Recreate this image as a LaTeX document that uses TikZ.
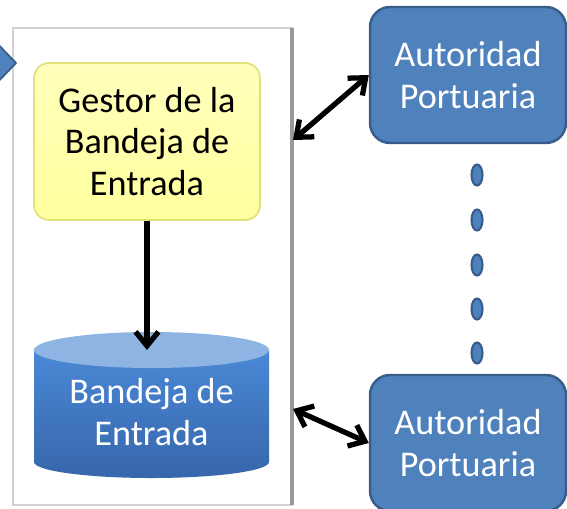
\documentclass[tikz,border=0pt]{standalone}
\usepackage{fontspec}
\setmainfont{Carlito}
\usetikzlibrary{arrows.meta}

\definecolor{gestorfill}{HTML}{FFFF9E}
\definecolor{gestorline}{HTML}{E2E27A}
\definecolor{autfill}{HTML}{4F81BD}
\definecolor{autline}{HTML}{385D8A}
\definecolor{captop}{HTML}{8DB4E3}
\definecolor{bodytop}{HTML}{4A88D6}
\definecolor{bodybot}{HTML}{3766AB}

\begin{document}
\begin{tikzpicture}
  [x=0.02cm, y=0.02cm,
   gestorbox/.style={draw=gestorline, line width=1pt, top color=gestorfill!70, bottom color=gestorfill,
     rounded corners=0.3cm, minimum width=4.52cm, minimum height=3.14cm, align=center},
   autbox/.style={draw=autline, line width=1.4pt, fill=autfill, text=white,
     rounded corners=0.4cm, minimum width=3.92cm, minimum height=2.72cm, align=center},
   link/.style={line width=3pt, -{Straight Barb[length=8pt,width=13pt]}},
   twolink/.style={line width=3pt, {Straight Barb[length=8pt,width=13pt]}-{Straight Barb[length=8pt,width=13pt]}},
   font=\fontsize{20.6}{23.5}\selectfont]
  \clip (0,0) rectangle (567,508);

  % panel
  \draw[black!18, line width=1.5pt, fill=white] (13,3) rectangle (292,480);
  \draw[black!40, line width=2pt] (292,480) -- (292,3);
  \filldraw[fill=autfill, draw=autline, line width=1pt] (-8,470) -- (16,445) -- (-8,420) -- cycle;

  % database
  \shade[top color=bodytop, bottom color=bodybot]
    (34,158) -- (34,46) arc[start angle=180, end angle=360, x radius=117.5, y radius=16]
    -- (269,158) -- cycle;
  \fill[captop] (151.5,158) ellipse[x radius=117.5, y radius=18];
  \coordinate (dbtop) at (147,158);
  \node[text=white, align=center] (bandeja) at (151.5,96) {Bandeja de\\Entrada};

  \node[gestorbox] (gestor) at (147,366.5) {Gestor de la\\Bandeja de\\Entrada};
  \node[autbox] (aut1) at (468,433) {Autoridad\\Portuaria};
  \node[autbox] (aut2) at (468,65) {Autoridad\\Portuaria};

  \foreach \y in {333,288,243,199,155}
    \filldraw[fill=autfill, draw=autline, line width=1.2pt] (477,\y) ellipse[x radius=5.5, y radius=10.5];

  \coordinate (p1) at (293,368);
  \coordinate (p2) at (293,99);

  \draw[link] (gestor) -- (dbtop);
  \draw[twolink] (p1) -- (aut1.west);
  \draw[twolink] (p2) -- (aut2.west);
\end{tikzpicture}
\end{document}
